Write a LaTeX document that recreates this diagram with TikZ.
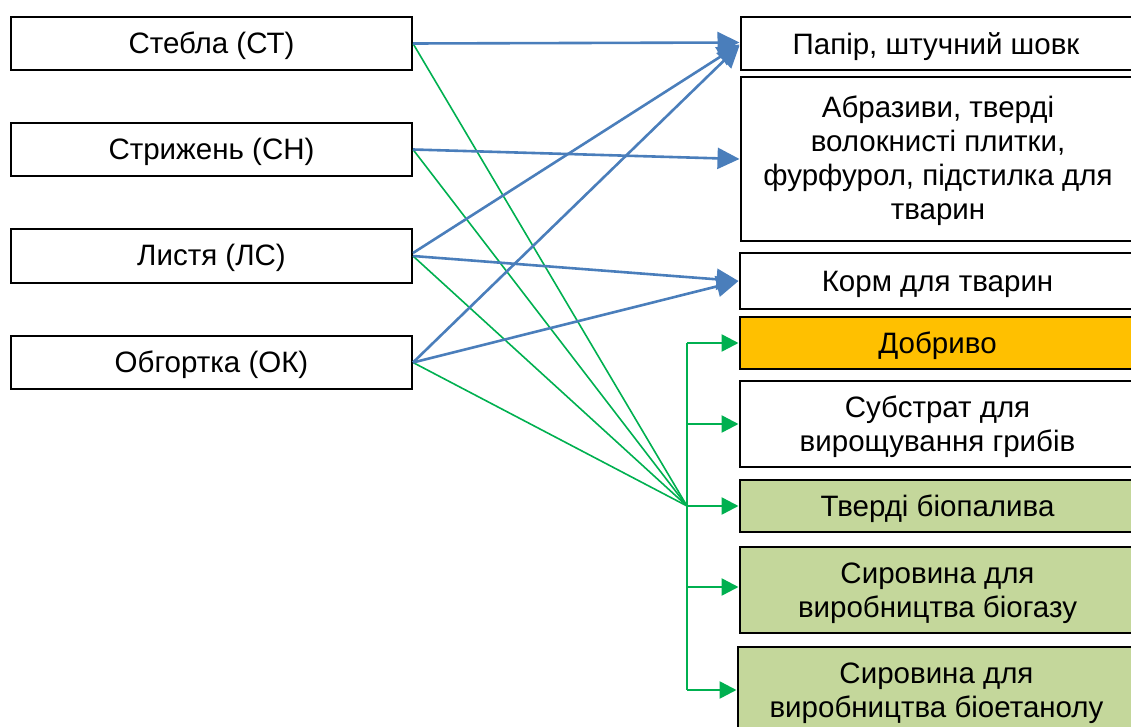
\documentclass[tikz,border=0pt]{standalone}
\usepackage{fontspec}
\setmainfont{Liberation Sans}
\usetikzlibrary{arrows.meta}
\definecolor{bluearr}{HTML}{4A7EBB}
\definecolor{greenarr}{HTML}{00B050}
\definecolor{orangefill}{HTML}{FFC000}
\definecolor{greenfill}{HTML}{C4D79B}
\tikzset{
  box/.style={draw=black, line width=2pt, inner sep=0pt},
  txt/.style={inner sep=0pt, align=center, font=\fontsize{29.5}{34}\selectfont},
  barrow/.style={draw=bluearr, line width=2.6pt, -{Triangle[length=22pt,width=21pt]}},
  gline/.style={draw=greenarr, line width=1.6pt},
  garrow/.style={draw=greenarr, line width=2.5pt, -{Triangle[length=17pt,width=17pt]}},
}
\begin{document}
\begin{tikzpicture}[x=1pt,y=-1pt]
\useasboundingbox (0,0) rectangle (1131,727);
% left boxes
\node[box, minimum width=401pt, minimum height=53pt] (st) at (211.5,43.5) {};
\node[box, minimum width=401pt, minimum height=53pt] (sn) at (211.5,149.5) {};
\node[box, minimum width=401pt, minimum height=53pt] (ls) at (211.5,256) {};
\node[box, minimum width=401pt, minimum height=53pt] (ok) at (211.5,362.5) {};
% right boxes
\node[box, minimum width=395pt, minimum height=53pt] (pap) at (938,43.5) {};
\node[box, minimum width=395pt, minimum height=164pt] (ab) at (938,159) {};
\node[box, minimum width=396pt, minimum height=56pt] (korm) at (937.5,281) {};
\node[box, fill=orangefill, minimum width=396pt, minimum height=52pt] (dob) at (937.5,343) {};
\node[box, minimum width=396pt, minimum height=86pt] (sub) at (937.5,424) {};
\node[box, fill=greenfill, minimum width=396pt, minimum height=52pt] (tv) at (937.5,506) {};
\node[box, fill=greenfill, minimum width=396pt, minimum height=86pt] (bg) at (937.5,590) {};
\node[box, fill=greenfill, minimum width=398pt, minimum height=86pt] (be) at (936.5,690) {};
% texts
\node[txt] (st-t) at ([yshift=-2pt]st.center) {Стебла (СТ)};
\node[txt] (sn-t) at ([yshift=-2pt]sn.center) {Стрижень (СН)};
\node[txt] (ls-t) at ([yshift=-2pt]ls.center) {Листя (ЛС)};
\node[txt] (ok-t) at ([yshift=-2pt]ok.center) {Обгортка (ОК)};
\node[txt] (pap-t) at ([xshift=-2pt,yshift=-3pt]pap.center) {Папір, штучний шовк};
\node[txt] (ab-t) at ([yshift=-2pt]ab.center) {Абразиви, тверді\\волокнисті плитки,\\фурфурол, підстилка для\\тварин};
\node[txt] (korm-t) at ([yshift=-3pt]korm.center) {Корм для тварин};
\node[txt] (dob-t) at ([yshift=-3pt]dob.center) {Добриво};
\node[txt] (sub-t) at ([yshift=-3pt]sub.center) {Субстрат для\\вирощування грибів};
\node[txt] (tv-t) at ([yshift=-3pt]tv.center) {Тверді біопалива};
\node[txt] (bg-t) at ([yshift=-3pt]bg.center) {Сировина для\\виробництва біогазу};
\node[txt] (be-t) at ([yshift=-3pt]be.center) {Сировина для\\виробництва біоетанолу};
% green fan
\coordinate (hub) at (687,506);
\draw[gline] (st.east) -- (hub);
\draw[gline] (sn.east) -- (hub);
\draw[gline] (ls.east) -- (hub);
\draw[gline] (ok.east) -- (hub);
\draw[greenarr, line width=2.5pt] (hub |- dob.west) -- (hub |- be.west);
\draw[garrow] (hub |- dob.west) -- (dob.west);
\draw[garrow] (hub |- sub.west) -- (sub.west);
\draw[garrow] (hub |- tv.west) -- (tv.west);
\draw[garrow] ([yshift=3pt]hub |- bg.west) -- ([yshift=3pt]bg.west);
\draw[garrow] (hub |- be.west) -- (be.west);
% blue arrows
\draw[barrow] (st.east) -- ([yshift=1pt]pap.west);
\draw[barrow] (sn.east) -- (ab.west);
\draw[barrow] ([yshift=3pt]ls.east) -- ([yshift=-1pt]pap.west);
\draw[barrow] (ls.east) -- (korm.west);
\draw[barrow] (ok.east) -- ([yshift=-2pt]pap.west);
\draw[barrow] (ok.east) -- (korm.west);
\end{tikzpicture}
\end{document}
